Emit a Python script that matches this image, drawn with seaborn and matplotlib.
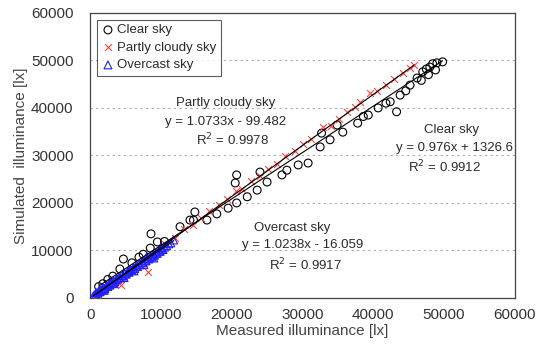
import numpy as np
import pandas as pd
import matplotlib
matplotlib.use("Agg")
import matplotlib.pyplot as plt
import seaborn as sns

# measured / simulated illuminance [lx]
clear_x = [1200, 1800, 2500, 3200, 4200, 4700, 5900, 6900, 7500, 8500, 8600, 9500,
           10500, 12700, 14100, 14600, 14800, 16500, 17900, 19500, 20500, 20700, 20700,
           22200, 23600, 24000, 25000, 27100, 27800, 29400, 30800, 32500, 32700, 33900,
           34900, 35700, 37800, 39300, 40700, 42400, 43300, 43800, 45200, 46200, 47000,
           47500, 48000, 48400, 49000, 49800, 48800, 47800, 46800, 44600, 41800, 38600]
clear_y = [2400, 3000, 3900, 4600, 6100, 8200, 7400, 8600, 9200, 10500, 13500, 11800,
           11900, 15000, 16400, 16400, 18100, 16400, 17700, 18900, 24200, 25900, 20000,
           21300, 22700, 26500, 24400, 25900, 26900, 28000, 28400, 31800, 34700, 33300,
           36400, 34900, 36800, 38500, 40000, 41300, 39200, 42700, 44800, 46300, 47600,
           48200, 48600, 49300, 49500, 49700, 48000, 47000, 45800, 43600, 41000, 38200]

partly_x = [900, 1500, 2200, 3000, 3600, 4400, 5200, 6300, 7400, 8200, 9300, 10600,
            12000, 13300, 14500, 15700, 16800, 18200, 19300, 20600, 21500, 22700, 24000,
            25200, 26400, 27500, 28900, 30100, 31200, 32900, 34000, 35100, 36300, 37400,
            38100, 39500, 40600, 41800, 42900, 44200, 45200, 45800]
partly_y = [700, 1400, 2300, 3400, 3500, 2700, 5300, 6600, 7800, 5500, 9800, 11300,
            12700, 14500, 15300, 16900, 18300, 19500, 20800, 22600, 22900, 24600, 25600,
            27100, 28300, 29800, 31000, 32400, 33500, 36000, 36300, 37600, 39200, 40200,
            41300, 43100, 43500, 44900, 46000, 47400, 48400, 49000]

overcast_x = [400, 600, 800, 900, 1100, 1300, 1400, 1600, 1800, 1900, 2100, 2300,
              2500, 2600, 2800, 3000, 3200, 3300, 3500, 3700, 3900, 4100, 4300, 4500,
              4700, 4900, 5100, 5300, 5500, 5700, 5900, 6100, 6300, 6500, 6700, 6900,
              7100, 7300, 7500, 7700, 7900, 8100, 8300, 8500, 8700, 8900, 9100, 9300,
              9500, 9700, 9900, 10100, 10300, 10500, 10800, 11100, 11400, 11800,
              2000, 3400, 4800, 6200, 7600, 9000, 5600, 8000, 10000, 1200, 2700]
overcast_y = [300, 700, 600, 1100, 1000, 1500, 1300, 1700, 1800, 2100, 2000, 2500,
              2400, 2800, 2700, 3200, 3100, 3600, 3400, 3900, 4000, 4300, 4200, 4700,
              4600, 5100, 5000, 5500, 5400, 5900, 5800, 6300, 6200, 6700, 6600, 7100,
              7000, 7500, 7400, 7900, 7800, 8300, 8200, 8700, 8600, 9100, 9000, 9500,
              9400, 9900, 9800, 10300, 10200, 10700, 11000, 11400, 11600, 12200,
              1600, 3000, 4300, 5700, 7000, 8400, 6000, 8700, 10600, 1400, 3000]

labels = ["Clear sky", "Partly cloudy sky", "Overcast sky"]
slopes = [0.976, 1.0733, 1.0238]
intercepts = [1326.6, -99.482, -16.059]
r2 = [0.9912, 0.9978, 0.9917]

df = pd.concat([
    pd.DataFrame({"measured": clear_x, "simulated": clear_y, "sky": labels[0]}),
    pd.DataFrame({"measured": partly_x, "simulated": partly_y, "sky": labels[1]}),
    pd.DataFrame({"measured": overcast_x, "simulated": overcast_y, "sky": labels[2]}),
])

sns.set_style("white")
plt.rcParams["font.family"] = ["Liberation Sans", "DejaVu Sans"]

fig = plt.figure(figsize=(5.43, 3.59), dpi=100)
ax = fig.add_axes([0.166, 0.170, 0.782, 0.794])

markers = {labels[0]: "o", labels[1]: "x", labels[2]: "^"}
colors = {labels[0]: "black", labels[1]: "#ff4040", labels[2]: "#2020ff"}

for lab in labels:
    sub = df[df["sky"] == lab]
    if lab == labels[1]:
        sns.scatterplot(data=sub, x="measured", y="simulated", ax=ax, marker="x",
                        color=colors[lab], s=24, linewidth=0.8, label=lab, zorder=3)
    else:
        sns.scatterplot(data=sub, x="measured", y="simulated", ax=ax, marker=markers[lab],
                        facecolor="none", edgecolor=colors[lab], s=32, linewidth=0.8,
                        label=lab, zorder=3)

# regression lines
for lab, m, b in zip(labels, slopes, intercepts):
    sub = df[df["sky"] == lab]
    xs = np.array([sub["measured"].min(), sub["measured"].max()])
    ax.plot(xs, m * xs + b, color="black", lw=0.8, zorder=4)

ax.set_xlim(0, 60000)
ax.set_ylim(0, 60000)
ax.set_xticks(range(0, 60001, 10000))
ax.set_yticks(range(0, 60001, 10000))
ax.yaxis.grid(True, linestyle=(0, (2, 3)), color="#aaaaaa", lw=0.8)
ax.tick_params(direction="in", length=3, labelsize=11, colors="#333333")
ax.tick_params(axis="y", pad=12)
ax.tick_params(axis="x", pad=7)
for sp in ax.spines.values():
    sp.set_color("#444444")
    sp.set_linewidth(0.9)
ax.set_xlabel("Measured illuminance [lx]", fontsize=11, color="#444444", labelpad=2)
ax.set_ylabel("Simulated  illuminance [lx]", fontsize=11, color="#444444", labelpad=2)

tk = dict(transform=ax.transAxes, fontsize=9.5, color="#2a2a2a", ha="center", va="center")
ax.text(0.32, 0.684, labels[1], **tk)
ax.text(0.32, 0.618, f"y = {slopes[1]}x - {abs(intercepts[1])}", **tk)
ax.text(0.335, 0.555, f"R$^2$ = {r2[1]}", **tk)
ax.text(0.852, 0.589, labels[0], **tk)
ax.text(0.859, 0.526, f"y = {slopes[0]}x + {intercepts[0]}", **tk)
ax.text(0.835, 0.46, f"R$^2$ = {r2[0]}", **tk)
ax.text(0.475, 0.246, labels[2], **tk)
ax.text(0.50, 0.186, f"y = {slopes[2]}x - {abs(intercepts[2])}", **tk)
ax.text(0.506, 0.116, f"R$^2$ = {r2[2]}", **tk)

leg = ax.legend(loc="upper left", fontsize=9.5, frameon=True, fancybox=False,
                edgecolor="#333333", borderpad=0.35, labelspacing=0.4,
                handletextpad=0.2, handlelength=1.0, borderaxespad=0.5)
leg.get_frame().set_linewidth(0.8)
for t in leg.get_texts():
    t.set_color("#2a2a2a")

fig.savefig("out.png", dpi=100)
